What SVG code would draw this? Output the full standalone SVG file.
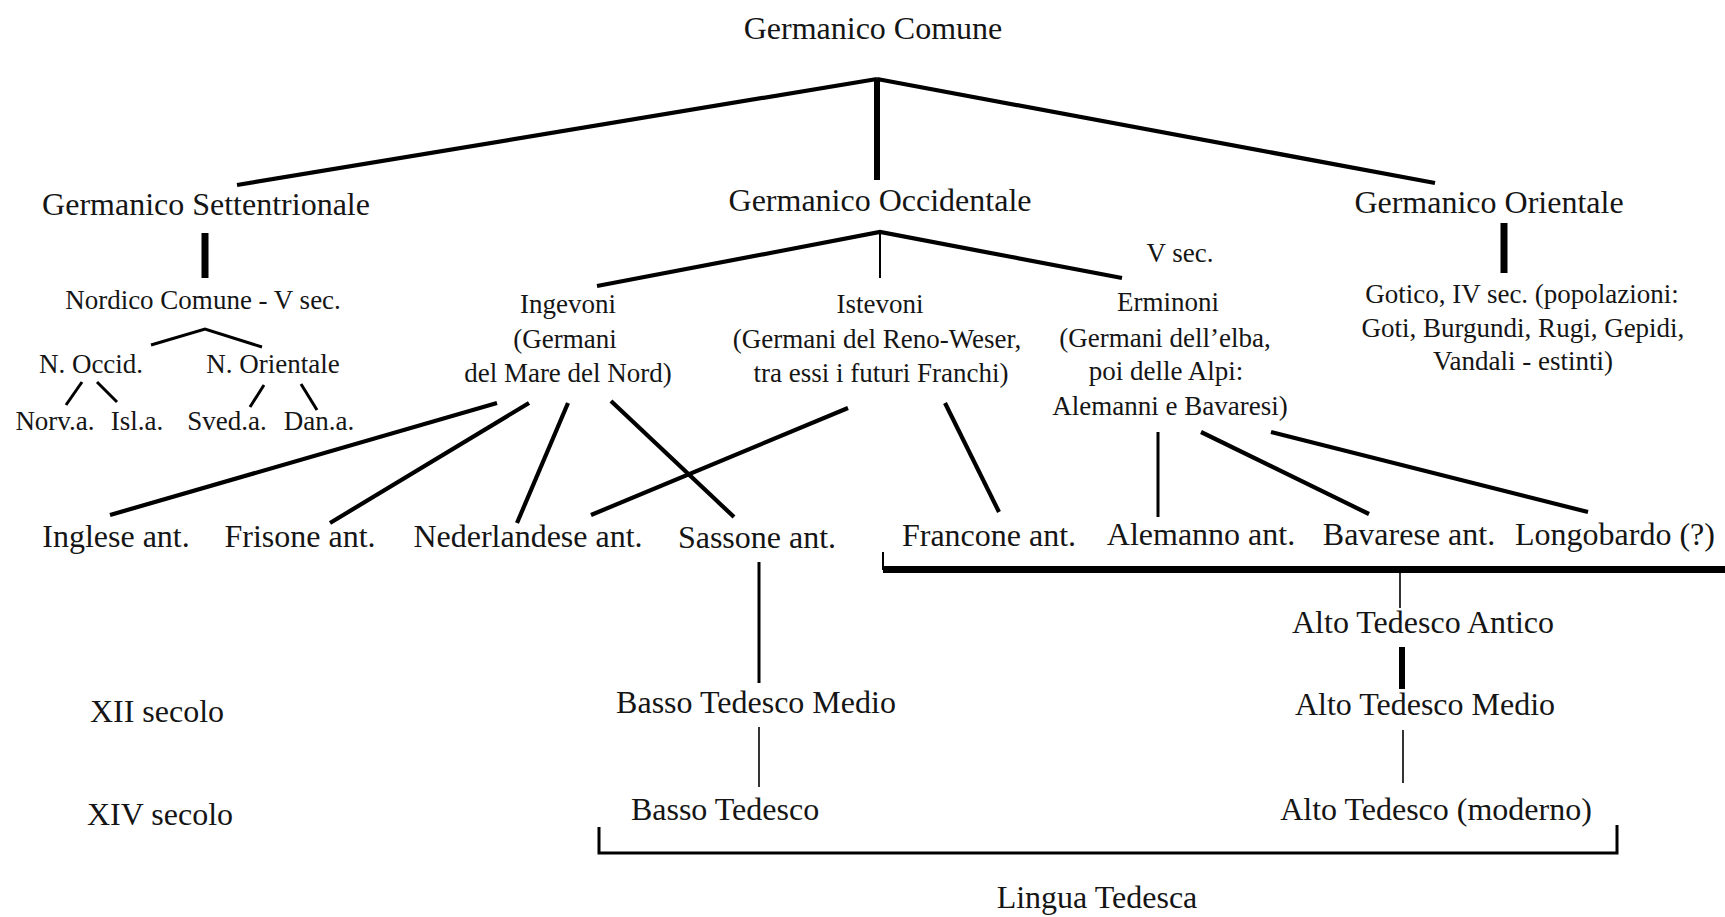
<svg xmlns="http://www.w3.org/2000/svg" width="1725" height="917" viewBox="0 0 1725 917">
<style>
text{font-family:"Liberation Serif","Times New Roman",serif;fill:#151515;text-anchor:middle}
.l{font-size:32px}
.s{font-size:27px}
.c line,.c polyline,.c path{stroke:#000;fill:none;stroke-linecap:butt;stroke-linejoin:miter}
.w1{stroke-width:1.6}
.w2{stroke-width:2}
.w3{stroke-width:3}
.w4{stroke-width:4.2}
.w6{stroke-width:6}
.w7{stroke-width:7}
</style>
<rect width="1725" height="917" fill="#fff"/>
<g id="connectors" class="c">
<line class="w4" x1="877" y1="79" x2="237" y2="185"/>
<line class="w4" x1="877" y1="79" x2="1435" y2="183"/>
<line class="w6" x1="877" y1="79" x2="877" y2="180"/>
<line class="w7" x1="205" y1="233" x2="205" y2="278"/>
<polyline class="w3" points="151,345 205,329 262,347"/>
<line class="w3" x1="82" y1="382" x2="66" y2="405"/>
<line class="w3" x1="97" y1="382" x2="117" y2="402"/>
<line class="w3" x1="264" y1="385" x2="250" y2="407"/>
<line class="w3" x1="301" y1="384" x2="317" y2="410"/>
<polyline class="w4" points="597,286 880,232 1122,278"/>
<line class="w2" x1="880" y1="233" x2="880" y2="278"/>
<line class="w4" x1="497" y1="403" x2="110" y2="515"/>
<line class="w4" x1="529" y1="403" x2="330" y2="523"/>
<line class="w4" x1="568" y1="403" x2="517" y2="523"/>
<line class="w4" x1="611" y1="401" x2="734" y2="517"/>
<line class="w4" x1="848" y1="408" x2="591" y2="515"/>
<line class="w4" x1="945" y1="403" x2="999" y2="512"/>
<line class="w3" x1="1158" y1="432" x2="1158" y2="517"/>
<line class="w4" x1="1201" y1="432" x2="1369" y2="514"/>
<line class="w4" x1="1271" y1="432" x2="1588" y2="512"/>
<line class="w7" x1="1504" y1="223" x2="1504" y2="273"/>
<line class="w7" x1="883" y1="569.5" x2="1725" y2="569.5"/>
<line class="w2" x1="883" y1="552" x2="883" y2="570"/>
<line class="w3" x1="759" y1="562" x2="759" y2="683"/>
<line class="w1" x1="1400" y1="573" x2="1400" y2="608"/>
<line class="w6" x1="1402" y1="647" x2="1402" y2="689"/>
<line class="w1" x1="1403" y1="730" x2="1403" y2="783"/>
<line class="w1" x1="759" y1="727" x2="759" y2="787"/>
<path class="w3" d="M599,827 V853 H1617 V825"/>
</g>
<g id="n-germanico-comune"><text class="l" x="873" y="39">Germanico Comune</text></g>
<g id="n-settentrionale"><text class="l" x="206" y="215">Germanico Settentrionale</text></g>
<g id="n-occidentale"><text class="l" x="880" y="211">Germanico Occidentale</text></g>
<g id="n-orientale"><text class="l" x="1489" y="213">Germanico Orientale</text></g>
<g id="n-nordico"><text class="s" x="203" y="309">Nordico Comune - V sec.</text></g>
<g id="n-nocc"><text class="s" x="91" y="373">N. Occid.</text></g>
<g id="n-nor"><text class="s" x="273" y="373">N. Orientale</text></g>
<g id="n-norv"><text class="s" x="55" y="430">Norv.a.</text></g>
<g id="n-isl"><text class="s" x="137" y="430">Isl.a.</text></g>
<g id="n-sved"><text class="s" x="227" y="430">Sved.a.</text></g>
<g id="n-dan"><text class="s" x="319" y="430">Dan.a.</text></g>
<g id="n-ingevoni"><text class="s" x="568" y="313">Ingevoni</text><text class="s" x="565" y="348">(Germani</text><text class="s" x="568" y="382">del Mare del Nord)</text></g>
<g id="n-istevoni"><text class="s" x="880" y="313">Istevoni</text><text class="s" x="877" y="348">(Germani del Reno-Weser,</text><text class="s" x="881" y="382">tra essi i futuri Franchi)</text></g>
<g id="n-vsec"><text class="s" x="1180" y="262">V sec.</text></g>
<g id="n-erminoni"><text class="s" x="1168" y="311">Erminoni</text><text class="s" x="1165" y="347">(Germani dell’elba,</text><text class="s" x="1166" y="380">poi delle Alpi:</text><text class="s" x="1170" y="415">Alemanni e Bavaresi)</text></g>
<g id="n-gotico"><text class="s" x="1522" y="303">Gotico, IV sec. (popolazioni:</text><text class="s" x="1523" y="337">Goti, Burgundi, Rugi, Gepidi,</text><text class="s" x="1523" y="370">Vandali - estinti)</text></g>
<g id="n-inglese"><text class="l" x="116" y="547">Inglese ant.</text></g>
<g id="n-frisone"><text class="l" x="300" y="547">Frisone ant.</text></g>
<g id="n-nederlandese"><text class="l" x="528" y="547">Nederlandese ant.</text></g>
<g id="n-sassone"><text class="l" x="757" y="548">Sassone ant.</text></g>
<g id="n-francone"><text class="l" x="989" y="546">Francone ant.</text></g>
<g id="n-alemanno"><text class="l" x="1201" y="545">Alemanno ant.</text></g>
<g id="n-bavarese"><text class="l" x="1409" y="545">Bavarese ant.</text></g>
<g id="n-longobardo"><text class="l" x="1615" y="545">Longobardo (?)</text></g>
<g id="n-ata"><text class="l" x="1423" y="633">Alto Tedesco Antico</text></g>
<g id="n-btm"><text class="l" x="756" y="713">Basso Tedesco Medio</text></g>
<g id="n-atm"><text class="l" x="1425" y="715">Alto Tedesco Medio</text></g>
<g id="n-xii"><text class="l" x="157" y="722">XII secolo</text></g>
<g id="n-xiv"><text class="l" x="160" y="825">XIV secolo</text></g>
<g id="n-bt"><text class="l" x="725" y="820">Basso Tedesco</text></g>
<g id="n-at"><text class="l" x="1436" y="820">Alto Tedesco (moderno)</text></g>
<g id="n-lingua"><text class="l" x="1097" y="908">Lingua Tedesca</text></g>
</svg>
